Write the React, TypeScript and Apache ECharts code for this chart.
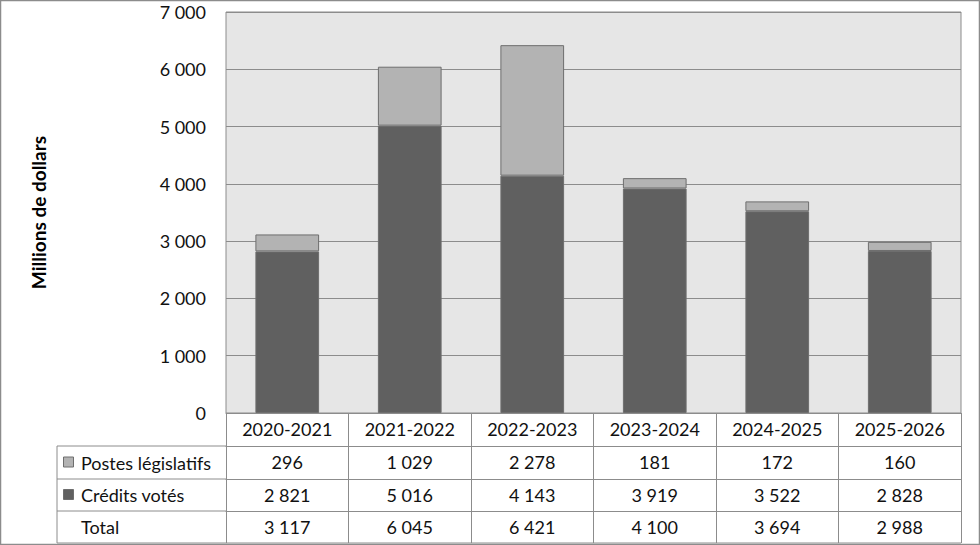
import React, { useEffect, useRef } from "react";
import * as echarts from "echarts";

const categories = ["2020-2021", "2021-2022", "2022-2023", "2023-2024", "2024-2025", "2025-2026"];
const postesLegislatifs = [296, 1029, 2278, 181, 172, 160];
const creditsVotes = [2821, 5016, 4143, 3919, 3522, 2828];
const totals = [3117, 6045, 6421, 4100, 3694, 2988];
const rowLabels = ["Postes législatifs", "Crédits votés", "Total"];
const yAxisName = "Millions de dollars";
const yMax = 7000;
const yInterval = 1000;

const COLOR_LIGHT = "#b3b3b3";
const COLOR_DARK = "#606060";
const FONT = "Lato, 'Open Sans', sans-serif";
const TEXT_COLOR = "#111";
const LINE = "#8c8c8c";
const FS = 18;

const fmt = (n: number) => String(n).replace(/\B(?=(\d{3})+(?!\d))/g, " ");

const GRID = { left: 226, right: 19, top: 12, bottom: 132 };
const ROW_OFFSETS = [0, 33, 66, 98];
const TABLE_BOTTOM_OFFSET = 130;
const LABEL_COL_LEFT = 57;

export default function App() {
  const ref = useRef<HTMLDivElement>(null);
  useEffect(() => {
    if (!ref.current) return;
    const chart = echarts.init(ref.current, undefined, { renderer: "svg" });
    const W = 980;
    const H = 545;
    const plotBottom = H - GRID.bottom;
    const plotRight = W - GRID.right;

    const rows = [categories, postesLegislatifs.map(fmt), creditsVotes.map(fmt), totals.map(fmt)];
    const xAxes = rows.map((data, i) => {
      const next = i < ROW_OFFSETS.length - 1 ? ROW_OFFSETS[i + 1] : TABLE_BOTTOM_OFFSET;
      return {
        type: "category",
        data,
        position: "bottom",
        offset: ROW_OFFSETS[i],
        boundaryGap: true,
        axisLine: { show: true, lineStyle: { color: LINE, width: 1 } },
        axisTick: { show: true, alignWithLabel: false, length: next - ROW_OFFSETS[i], lineStyle: { color: LINE } },
        axisLabel: { color: TEXT_COLOR, fontSize: FS, fontFamily: FONT, margin: 7, interval: 0 },
        splitLine: { show: false },
      };
    });

    const graphics: any[] = [];
    graphics.push({
      type: "rect",
      shape: { x: 0.5, y: 0.5, width: W - 1, height: H - 1 },
      style: { fill: "none", stroke: LINE, lineWidth: 1.5 },
      silent: true,
    });
    const rowYs = ROW_OFFSETS.slice(1).map((o) => plotBottom + o);
    rowYs.forEach((y) => {
      graphics.push({
        type: "line",
        shape: { x1: LABEL_COL_LEFT, y1: y, x2: GRID.left, y2: y },
        style: { stroke: LINE, lineWidth: 1 },
      });
    });
    const tableBottom = plotBottom + TABLE_BOTTOM_OFFSET;
    graphics.push({
      type: "line",
      shape: { x1: LABEL_COL_LEFT, y1: tableBottom, x2: plotRight, y2: tableBottom },
      style: { stroke: LINE, lineWidth: 1 },
    });
    graphics.push({
      type: "line",
      shape: { x1: LABEL_COL_LEFT, y1: rowYs[0], x2: LABEL_COL_LEFT, y2: tableBottom },
      style: { stroke: LINE, lineWidth: 1 },
    });
    const swatches = [COLOR_LIGHT, COLOR_DARK, null];
    rowLabels.forEach((label, i) => {
      const top = rowYs[i];
      const bottom = i < rowYs.length - 1 ? rowYs[i + 1] : tableBottom;
      const cy = (top + bottom) / 2;
      const sw = swatches[i];
      if (sw) {
        graphics.push({
          type: "rect",
          shape: { x: 63.5, y: cy - 5.5, width: 10, height: 10 },
          style: { fill: sw, stroke: "#6e6e6e", lineWidth: 1 },
        });
      }
      graphics.push({
        type: "text",
        x: 81,
        y: cy,
        style: {
          text: label,
          fill: TEXT_COLOR,
          font: `${FS}px ${FONT}`,
          verticalAlign: "middle",
          align: "left",
        },
      });
    });

    chart.setOption({
      animation: false,
      backgroundColor: "#ffffff",
      grid: {
        left: GRID.left,
        right: GRID.right,
        top: GRID.top,
        bottom: GRID.bottom,
        show: true,
        backgroundColor: "#e6e6e6",
        borderColor: LINE,
        borderWidth: 1,
      },
      xAxis: xAxes,
      yAxis: {
        type: "value",
        min: 0,
        max: yMax,
        interval: yInterval,
        name: yAxisName,
        nameLocation: "middle",
        nameRotate: 90,
        nameGap: 178,
        nameTextStyle: { color: "#000", fontSize: 19, fontWeight: "bold", fontFamily: FONT },
        axisLine: { show: false },
        axisTick: { show: false },
        axisLabel: { color: TEXT_COLOR, fontSize: FS, fontFamily: FONT, margin: 20, formatter: (v: number) => fmt(v) },
        splitLine: { show: true, lineStyle: { color: LINE, width: 1 } },
      },
      series: [
        {
          name: rowLabels[1],
          type: "bar",
          stack: "total",
          data: creditsVotes,
          barWidth: "52%",
          itemStyle: { color: COLOR_DARK, borderColor: "#6e6e6e", borderWidth: 1 },
        },
        {
          name: rowLabels[0],
          type: "bar",
          stack: "total",
          data: postesLegislatifs,
          barWidth: "52%",
          itemStyle: { color: COLOR_LIGHT, borderColor: "#6e6e6e", borderWidth: 1 },
        },
      ],
      graphic: graphics,
    });
    return () => chart.dispose();
  }, []);
  return (
    <div
      ref={ref}
      style={{ position: "absolute", left: 0, top: 0, width: 980, height: 545 }}
    />
  );
}
